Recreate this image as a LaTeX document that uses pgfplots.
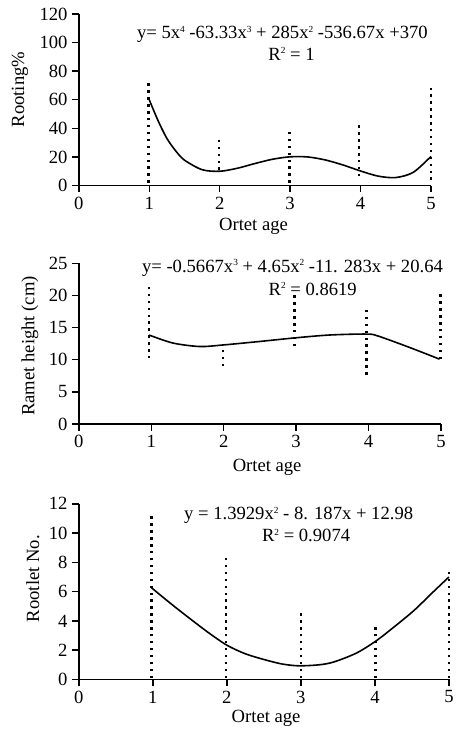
\documentclass[border=0pt]{standalone}
\usepackage{fontspec}
\setmainfont{Liberation Serif}
\usepackage{pgfplots}
\pgfplotsset{compat=1.18}

\newcommand{\sq}[1]{\raisebox{0.75ex}{\fontsize{7}{8}\selectfont #1}}

\pgfplotsset{
  ortet/.style={scale only axis, axis lines=left, axis line style={-, line width=1.1pt},
    tick align=outside, major tick length=5pt, tick style={line width=1.1pt, black},
    xmin=0, xmax=5, ymin=0, xtick={0,...,5}, clip=false, anchor=south west,
    /pgf/number format/assume math mode=true,
    tick label style={font=\fontsize{14}{16}\selectfont},
    label style={font=\fontsize{14}{16}\selectfont},
    xlabel={Ortet age}},
  fit/.style={black, line width=1.2pt, smooth, no markers},
  range/.style={black, line width=1.9pt, dash pattern=on 1.8pt off 3.4pt, no markers, unbounded coords=jump},
}

\begin{document}
\begin{tikzpicture}
\path (0,0) rectangle (343.5pt,548.25pt);

% rooting %
\begin{axis}[ortet, at={(59.25pt,408.75pt)}, width=264.75pt, height=129pt,
  ymax=120, ytick={0,20,...,120}, ylabel={Rooting\%},
  xlabel style={at={(axis description cs:0.496,-0.238)}, anchor=center},
  ylabel style={at={(axis description cs:-0.167,0.56)}, anchor=center}]
  \addplot[range] coordinates {(0.99,2) (0.99,73) (nan,nan) (1.99,11) (1.99,32) (nan,nan)
    (2.99,2) (2.99,38) (nan,nan) (3.98,6.5) (3.98,43) (nan,nan) (5,4) (5,71)};
  \addplot[fit] coordinates {(1,60) (1.125,45.4) (1.25,33.0) (1.375,24.3) (1.5,17.8) (1.75,11.1) (2,10.0) (2.25,12.1)
    (2.5,15.4) (2.75,18.4) (3,20.1) (3.25,20.0) (3.5,17.9) (3.75,14.4) (4,10.2)
    (4.25,6.6) (4.5,5.6) (4.75,9.3) (5,20.4)};
  \node[font=\fontsize{14}{16}\selectfont] at (axis cs:2.89,105.5)
    {y= 5x\sq{4} -63.33x\sq{3} + 285x\sq{2} -536.67x +370};
  \node[font=\fontsize{14}{16}\selectfont] at (axis cs:3.02,92) {R\sq{2} = 1};
\end{axis}

% ramet height
\begin{axis}[ortet, at={(59.25pt,229.5pt)}, width=272.25pt, height=120.75pt,
  ymax=25, ytick={0,5,...,25}, ylabel={Ramet height (cm)},
  xlabel style={at={(axis description cs:0.52,-0.267)}, anchor=center},
  ylabel style={at={(axis description cs:-0.135,0.486)}, anchor=center}]
  \addplot[range] coordinates {(0.97,10.2) (0.97,21.6) (nan,nan) (1.99,9.0) (1.99,12.4) (nan,nan)
    (2.98,12.1) (2.98,20.2) (nan,nan) (3.97,7.7) (3.97,18.0) (nan,nan) (4.99,10.1) (4.99,20.4)};
  \addplot[fit] coordinates {(0.97,13.85) (1.3,12.6) (1.67,12.06) (1.99,12.3) (2.5,12.85)
    (2.98,13.4) (3.46,13.85) (3.97,14.0) (4.13,13.7) (4.57,11.9) (4.98,10.1)};
  \node[font=\fontsize{14}{16}\selectfont] at (axis cs:2.95,24.3)
    {y= -0.5667x\sq{3} + 4.65x\sq{2} -11. 283x + 20.64};
  \node[font=\fontsize{14}{16}\selectfont] at (axis cs:3.23,21.0) {R\sq{2} = 0.8619};
\end{axis}

% rootlet number
\begin{axis}[ortet, at={(59.25pt,37.5pt)}, width=278.25pt, height=132pt,
  ymax=12, ytick={0,2,...,12}, ylabel={Rootlet No.},
  xlabel style={at={(axis description cs:0.506,-0.222)}, anchor=center},
  ylabel style={at={(axis description cs:-0.124,0.574)}, anchor=center}]
  \addplot[range] coordinates {(0.98,0.1) (0.98,11.3) (nan,nan) (1.99,0.1) (1.99,8.5) (nan,nan)
    (3.0,0.1) (3.0,4.8) (nan,nan) (4.01,0.1) (4.01,3.7) (nan,nan) (5,0.1) (5,7.6)};
  \addplot[fit] coordinates {(0.98,6.27) (1.25,5.15) (1.5,4.16) (1.75,3.2) (2.0,2.34)
    (2.25,1.75) (2.53,1.32) (2.75,1.05) (2.97,0.93) (3.25,1.0) (3.45,1.2) (3.75,1.8)
    (4.01,2.61) (4.25,3.55) (4.53,4.72) (4.75,5.8) (5,7.0)};
  \node[font=\fontsize{14}{16}\selectfont] at (axis cs:2.97,11.2)
    {y = 1.3929x\sq{2} - 8. 187x + 12.98};
  \node[font=\fontsize{14}{16}\selectfont] at (axis cs:3.07,9.84) {R\sq{2} = 0.9074};
\end{axis}
\end{tikzpicture}
\end{document}
